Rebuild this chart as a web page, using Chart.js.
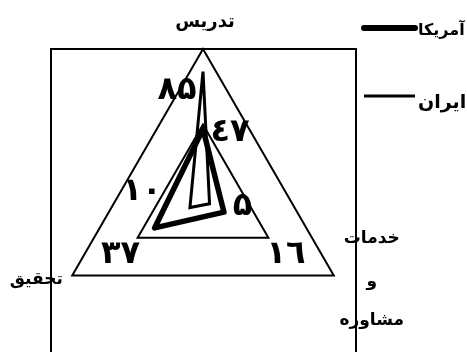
<!DOCTYPE html>
<html><head><meta charset="utf-8">
<script src="https://cdn.jsdelivr.net/npm/chart.js@4"></script>
<style>html,body{margin:0;padding:0;background:#fff;overflow:hidden}</style>
</head><body>
<canvas id="c" width="467" height="352"></canvas>
<script>
const categories = ['تدریس', 'خدمات و مشاوره', 'تحقیق'];
const seriesNames = ['آمریکا', 'ایران'];
const usaValues = [47, 16, 37];
const iranValues = [85, 5, 10];
const scaleTicks = [0, 50, 100];

const FONT = '"DejaVu Sans", sans-serif';
const DIGITS = '٠١٢٣٤۵٦٧٨٩';
function toArabicDigits(n) {
  return String(n).replace(/[0-9]/g, d => DIGITS[Number(d)]);
}

// label offsets (pixels) from each data point, per dataset
const valueLabelOffsets = [
  [[27, 4], [62, 43], [-34, 27]],
  [[-26, 19], [33, 3], [-48, -16]]
];

const decorPlugin = {
  id: 'decor',
  beforeDatasetsDraw(chart) {
    const ctx = chart.ctx;
    const a = chart.chartArea;
    ctx.save();
    ctx.strokeStyle = '#000';
    ctx.lineWidth = 2;
    ctx.beginPath();
    ctx.moveTo(a.left, chart.height + 10);
    ctx.lineTo(a.left, a.top);
    ctx.lineTo(a.right, a.top);
    ctx.lineTo(a.right, chart.height + 10);
    ctx.stroke();
    ctx.restore();
  },
  afterDraw(chart) {
    const ctx = chart.ctx;
    const s = chart.scales.r;
    const max = s.max;
    ctx.save();
    ctx.fillStyle = '#000';
    ctx.textAlign = 'center';
    ctx.textBaseline = 'middle';
    ctx.direction = 'rtl';
    // category labels
    ctx.font = 'bold 18px ' + FONT;
    const top = s.getPointPositionForValue(0, max);
    ctx.fillText(categories[0], top.x + 2, top.y - 27);
    const br = s.getPointPositionForValue(1, max);
    const parts = categories[1].split(' ');
    const dy = [-37, 6, 45];
    ctx.font = 'bold 17px ' + FONT;
    parts.forEach((p, i) => ctx.fillText(p, br.x + 38, br.y + dy[i]));
    const bl = s.getPointPositionForValue(2, max);
    ctx.fillText(categories[2], bl.x - 36, bl.y + 4);
    // value labels
    ctx.font = 'bold 32px ' + FONT;
    ctx.direction = 'ltr';
    chart.data.datasets.forEach((ds, di) => {
      ds.data.forEach((v, i) => {
        const p = s.getPointPositionForValue(i, v);
        const o = valueLabelOffsets[di][i];
        ctx.fillText(toArabicDigits(v), p.x + o[0], p.y + o[1]);
      });
    });
    // legend
    const legendY = [28, 96];
    const widths = [6, 3];
    chart.data.datasets.forEach((ds, di) => {
      ctx.beginPath();
      ctx.lineWidth = widths[di];
      ctx.lineCap = di === 0 ? 'round' : 'butt';
      ctx.strokeStyle = '#000';
      ctx.moveTo(364, legendY[di]);
      ctx.lineTo(415, legendY[di]);
      ctx.stroke();
      ctx.font = (di === 0 ? 'bold 16px ' : 'bold 19px ') + FONT;
      ctx.textAlign = 'left';
      ctx.direction = 'ltr';
      ctx.fillText(ds.label, 418, legendY[di] + (di === 0 ? 3 : 7));
    });
    ctx.restore();
  }
};

new Chart(document.getElementById('c'), {
  type: 'radar',
  data: {
    labels: categories,
    datasets: [
      { label: seriesNames[0], data: usaValues, borderColor: '#000', borderWidth: 5.5, fill: false, pointRadius: 0, borderJoinStyle: 'round', tension: 0 },
      { label: seriesNames[1], data: iranValues, borderColor: '#000', borderWidth: 3, fill: false, pointRadius: 0, borderJoinStyle: 'miter', tension: 0 }
    ]
  },
  options: {
    responsive: false,
    devicePixelRatio: 1,
    animation: false,
    layout: { padding: { left: 51, right: 111, top: 49, bottom: 0 } },
    plugins: { legend: { display: false }, tooltip: { enabled: false } },
    scales: {
      r: {
        min: scaleTicks[0],
        max: scaleTicks[scaleTicks.length - 1],
        ticks: { display: false, stepSize: scaleTicks[1] - scaleTicks[0] },
        grid: { color: '#000', lineWidth: 2 },
        angleLines: { display: false },
        pointLabels: { display: false }
      }
    }
  },
  plugins: [decorPlugin]
});
</script>
</body></html>
